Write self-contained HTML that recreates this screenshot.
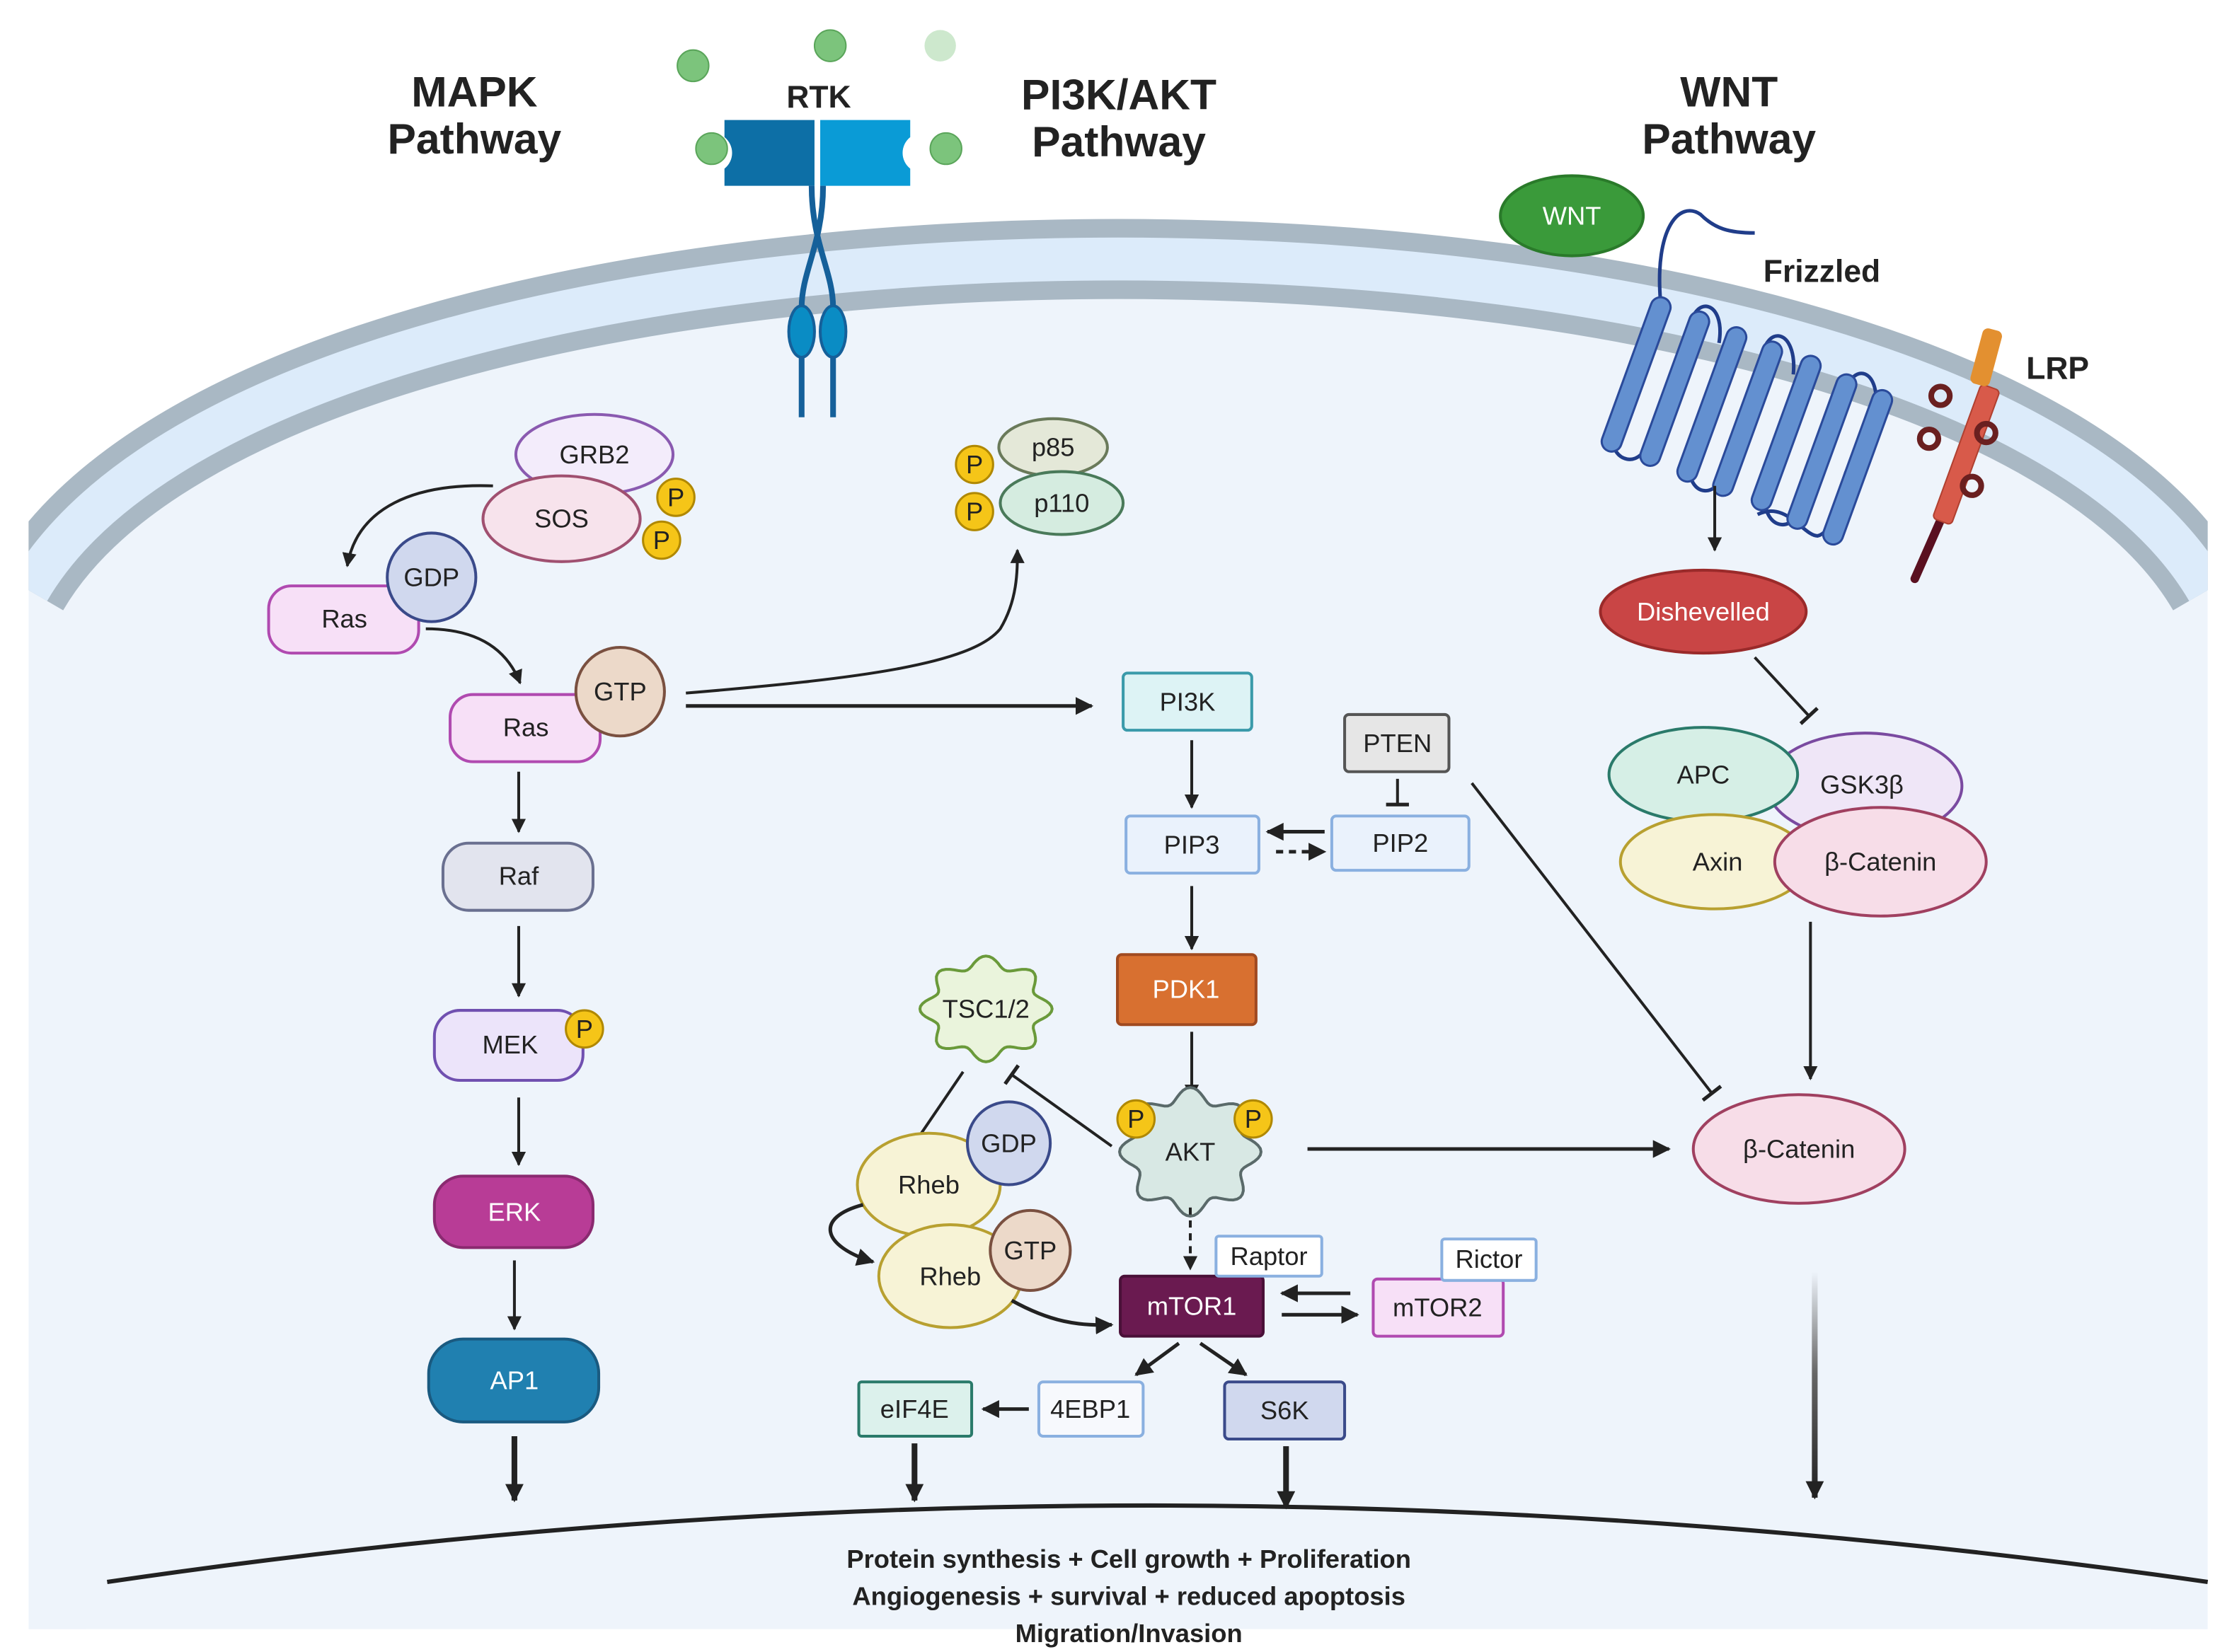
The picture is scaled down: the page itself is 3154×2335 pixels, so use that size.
<!DOCTYPE html>
<html><head><meta charset="utf-8"><style>
html,body{margin:0;padding:0;background:#fff}
svg{display:block}
text{font-family:"Liberation Sans",Arial,sans-serif;text-anchor:middle;dominant-baseline:central;fill:#222}
.t{font-size:18px}
.b{font-weight:bold}
</style></head><body>
<svg width="3154" height="2335" viewBox="0 0 1562 1156" preserveAspectRatio="none" xmlns="http://www.w3.org/2000/svg">
<defs>
<marker id="a" viewBox="0 0 10 10" refX="9" refY="5" markerWidth="5" markerHeight="5" orient="auto"><path d="M0,0L10,5L0,10z" fill="#222"/></marker>
<marker id="inh" viewBox="0 0 10 10" refX="5" refY="5" markerWidth="8" markerHeight="8" orient="auto"><path d="M5,0L5,10" stroke="#222" stroke-width="1.6"/></marker>
<marker id="big" viewBox="0 0 10 10" refX="9" refY="5" markerWidth="3.2" markerHeight="3.2" orient="auto"><path d="M0,0L10,5L0,10z" fill="#222"/></marker>
<linearGradient id="g" gradientUnits="userSpaceOnUse" x1="0" y1="890" x2="0" y2="1048"><stop offset="0" stop-color="#eef4fb"/><stop offset="0.45" stop-color="#666"/><stop offset="1" stop-color="#222"/></linearGradient>
<clipPath id="cc"><rect x="20" y="0" width="1525" height="1156"/></clipPath>
</defs>
<rect width="1562" height="1156" fill="#fff"/>
<g clip-path="url(#cc)">
<path d="M20,392 C200,83 1365,83 1545,392 L1545,1140 L20,1140 Z" fill="#eef4fb"/>
<path d="M20,413 C200,104 1365,104 1545,413" fill="none" stroke="#a9b8c4" stroke-width="56"/>
<path d="M20,413 C200,104 1365,104 1545,413" fill="none" stroke="#dcebfa" stroke-width="30"/>
<rect x="20" y="460" width="40" height="680" fill="#eef4fb"/>
<rect x="1505" y="460" width="40" height="680" fill="#eef4fb"/>
</g>
<path d="M75,1107 Q800,1000 1545,1107" fill="none" stroke="#222" stroke-width="3"/>

<text x="332" y="64" class="b" font-size="30">MAPK</text>
<text x="332" y="97" class="b" font-size="30">Pathway</text>
<text x="783" y="66" class="b" font-size="30">PI3K/AKT</text>
<text x="783" y="99" class="b" font-size="30">Pathway</text>
<text x="1210" y="64" class="b" font-size="30">WNT</text>
<text x="1210" y="97" class="b" font-size="30">Pathway</text>

<g fill="#7cc47c" stroke="#5aa55a">
<circle cx="485" cy="46" r="11"/><circle cx="581" cy="32" r="11"/><circle cx="498" cy="104" r="11"/><circle cx="662" cy="104" r="11"/>
</g>
<circle cx="658" cy="32" r="11" fill="#cde8cd"/>
<text x="573" y="68" class="b" font-size="22">RTK</text>
<path d="M507,84 H570 V130 H507 V118 A14,14 0 0 0 507,96 Z" fill="#0d6fa6"/>
<path d="M574,84 H637 V96 A14,14 0 0 0 637,118 V130 H574 Z" fill="#0a9bd6"/>
<path d="M568,130 C568,170 583,190 583,215 M576,130 C576,170 561,190 561,215" stroke="#15609a" stroke-width="4" fill="none"/>
<ellipse cx="561" cy="232" rx="9" ry="18" fill="#0a8cc4" stroke="#15609a" stroke-width="2"/>
<ellipse cx="583" cy="232" rx="9" ry="18" fill="#0a8cc4" stroke="#15609a" stroke-width="2"/>
<path d="M561,250 V292 M583,250 V292" stroke="#15609a" stroke-width="4"/>

<ellipse cx="1100" cy="151" rx="50" ry="28" fill="#3a9a3a" stroke="#2a7a2a" stroke-width="2"/>
<text x="1100" y="151" class="t" style="fill:#fff" font-size="20">WNT</text>
<path d="M1162,210 C1158,160 1175,140 1190,150 C1200,160 1210,163 1228,163" fill="none" stroke="#203d8a" stroke-width="2.5"/>
<path d="M1230,360 C1250,350 1262,375 1272,375 C1285,372 1288,340 1292,330" fill="none" stroke="#203d8a" stroke-width="2.5"/>
<g fill="none" stroke="#203d8a" stroke-width="2.5">
<path d="M1128,300 C1125,325 1150,330 1155,305"/>
<path d="M1182,232 C1185,205 1208,210 1203,240"/>
<path d="M1182,322 C1180,350 1205,350 1207,325"/>
<path d="M1232,255 C1235,225 1258,230 1255,262"/>
<path d="M1235,345 C1233,372 1258,375 1260,350"/>
<path d="M1290,280 C1295,250 1318,258 1312,290"/>
</g>
<g fill="#6390d0" stroke="#2a4a9a" stroke-width="1.5">
<rect x="-7" y="-57" width="14" height="114" rx="7" transform="translate(1145,262) rotate(20)"/>
<rect x="-7" y="-57" width="14" height="114" rx="7" transform="translate(1172,272) rotate(20)"/>
<rect x="-7" y="-57" width="14" height="114" rx="7" transform="translate(1198,283) rotate(20)"/>
<rect x="-7" y="-57" width="14" height="114" rx="7" transform="translate(1223,293) rotate(20)"/>
<rect x="-7" y="-57" width="14" height="114" rx="7" transform="translate(1250,303) rotate(20)"/>
<rect x="-7" y="-57" width="14" height="114" rx="7" transform="translate(1275,316) rotate(20)"/>
<rect x="-7" y="-57" width="14" height="114" rx="7" transform="translate(1300,327) rotate(20)"/>
</g>
<text x="1275" y="190" class="b" font-size="22">Frizzled</text>
<path d="M1373,330 L1340,405" stroke="#5a1020" stroke-width="6" stroke-linecap="round"/>
<rect x="-7" y="-50" width="14" height="100" rx="3" transform="translate(1376,318) rotate(20)" fill="#d85a4a" stroke="#b04030"/>
<rect x="-7" y="-20" width="14" height="40" rx="4" transform="translate(1390,250) rotate(15)" fill="#e39030"/>
<g fill="none" stroke="#6a2020" stroke-width="4">
<circle cx="1358" cy="277" r="6.5"/><circle cx="1350" cy="307" r="6.5"/><circle cx="1390" cy="303" r="6.5"/><circle cx="1380" cy="340" r="6.5"/>
</g>
<text x="1440" y="258" class="b" font-size="22">LRP</text>
<line x1="1200" y1="340" x2="1200" y2="385" stroke="#222" stroke-width="2" marker-end="url(#a)"/>
<ellipse cx="1192" cy="428" rx="72" ry="29" fill="#c94545" stroke="#9a2a2a" stroke-width="2"/>
<text x="1192" y="428" class="t" style="fill:#fff">Dishevelled</text>
<line x1="1228" y1="460" x2="1266" y2="501" stroke="#222" stroke-width="2" marker-end="url(#inh)"/>
<ellipse cx="1305" cy="550" rx="68" ry="37" fill="#efe6f7" stroke="#7a4aa0" stroke-width="2"/>
<ellipse cx="1192" cy="542" rx="66" ry="33" fill="#d6efe6" stroke="#2a7a6a" stroke-width="2"/>
<ellipse cx="1200" cy="603" rx="66" ry="33" fill="#f7f3d6" stroke="#b8a030" stroke-width="2"/>
<ellipse cx="1316" cy="603" rx="74" ry="38" fill="#f7dde8" stroke="#a04060" stroke-width="2"/>
<text x="1192" y="542" class="t" font-size="20">APC</text>
<text x="1303" y="549" class="t" font-size="20">GSK3β</text>
<text x="1202" y="603" class="t" font-size="20">Axin</text>
<text x="1316" y="603" class="t" font-size="20">β-Catenin</text>
<line x1="1267" y1="645" x2="1267" y2="755" stroke="#222" stroke-width="2" marker-end="url(#a)"/>
<ellipse cx="1259" cy="804" rx="74" ry="38" fill="#f7dde8" stroke="#a04060" stroke-width="2"/>
<text x="1259" y="804" class="t" font-size="20">β-Catenin</text>
<line x1="1030" y1="548" x2="1198" y2="765" stroke="#222" stroke-width="2" marker-end="url(#inh)"/>
<line x1="915" y1="804" x2="1168" y2="804" stroke="#222" stroke-width="2.5" marker-end="url(#a)"/>
<line x1="1270" y1="890" x2="1270" y2="1048" stroke="url(#g)" stroke-width="4" marker-end="url(#big)"/>

<ellipse cx="416" cy="318" rx="55" ry="28" fill="#f3ecfb" stroke="#8a5ab0" stroke-width="2"/>
<text x="416" y="318" class="t">GRB2</text>
<ellipse cx="393" cy="363" rx="55" ry="30" fill="#f7e3ec" stroke="#a05070" stroke-width="2"/>
<text x="393" y="363" class="t">SOS</text>
<g fill="#f5c518" stroke="#b08800" stroke-width="1.5"><circle cx="473" cy="348" r="13"/><circle cx="463" cy="378" r="13"/></g>
<text x="473" y="348" class="t" font-size="16">P</text><text x="463" y="378" class="t" font-size="16">P</text>
<path d="M345,340 C290,338 250,355 243,396" fill="none" stroke="#222" stroke-width="2" marker-end="url(#a)"/>
<rect x="188" y="410" width="105" height="47" rx="16" fill="#f7e0f7" stroke="#b04ab0" stroke-width="2"/>
<text x="241" y="433" class="t">Ras</text>
<circle cx="302" cy="404" r="31" fill="#d0d8ee" stroke="#3a4a8a" stroke-width="2"/>
<text x="302" y="404" class="t">GDP</text>
<path d="M298,440 C335,440 355,455 364,478" fill="none" stroke="#222" stroke-width="2" marker-end="url(#a)"/>
<rect x="315" y="486" width="105" height="47" rx="16" fill="#f7e0f7" stroke="#b04ab0" stroke-width="2"/>
<text x="368" y="509" class="t">Ras</text>
<circle cx="434" cy="484" r="31" fill="#ecd9c9" stroke="#7a5040" stroke-width="2"/>
<text x="434" y="484" class="t">GTP</text>
<line x1="363" y1="540" x2="363" y2="582" stroke="#222" stroke-width="2" marker-end="url(#a)"/>
<rect x="310" y="590" width="105" height="47" rx="18" fill="#e2e4ee" stroke="#6a7090" stroke-width="2"/>
<text x="363" y="613" class="t">Raf</text>
<line x1="363" y1="648" x2="363" y2="697" stroke="#222" stroke-width="2" marker-end="url(#a)"/>
<rect x="304" y="707" width="104" height="49" rx="18" fill="#ece4fa" stroke="#7050b0" stroke-width="2"/>
<text x="357" y="731" class="t">MEK</text>
<circle cx="409" cy="720" r="13" fill="#f5c518" stroke="#b08800" stroke-width="1.5"/><text x="409" y="720" class="t" font-size="16">P</text>
<line x1="363" y1="768" x2="363" y2="815" stroke="#222" stroke-width="2" marker-end="url(#a)"/>
<rect x="304" y="823" width="111" height="50" rx="20" fill="#b83c96" stroke="#8a2a70" stroke-width="2"/>
<text x="360" y="848" class="t" style="fill:#fff">ERK</text>
<line x1="360" y1="882" x2="360" y2="930" stroke="#222" stroke-width="2" marker-end="url(#a)"/>
<rect x="300" y="937" width="119" height="58" rx="24" fill="#2080b0" stroke="#1a5a80" stroke-width="2"/>
<text x="360" y="966" class="t" style="fill:#fff">AP1</text>
<line x1="360" y1="1005" x2="360" y2="1050" stroke="#222" stroke-width="4" marker-end="url(#big)"/>

<path d="M480,485 C600,475 680,465 700,440 C712,420 712,400 712,385" fill="none" stroke="#222" stroke-width="2" marker-end="url(#a)"/>
<line x1="480" y1="494" x2="764" y2="494" stroke="#222" stroke-width="2.5" marker-end="url(#a)"/>
<ellipse cx="737" cy="313" rx="38" ry="20" fill="#e4e8d8" stroke="#6a7a5a" stroke-width="2"/>
<text x="737" y="313" class="t">p85</text>
<ellipse cx="743" cy="352" rx="43" ry="22" fill="#d5ece0" stroke="#4a7a5a" stroke-width="2"/>
<text x="743" y="352" class="t">p110</text>
<g fill="#f5c518" stroke="#b08800" stroke-width="1.5"><circle cx="682" cy="325" r="13"/><circle cx="682" cy="358" r="13"/></g>
<text x="682" y="325" class="t" font-size="16">P</text><text x="682" y="358" class="t" font-size="16">P</text>
<rect x="786" y="471" width="90" height="40" rx="3" fill="#ddf3f5" stroke="#3a9aaa" stroke-width="2"/>
<text x="831" y="491" class="t">PI3K</text>
<line x1="834" y1="518" x2="834" y2="565" stroke="#222" stroke-width="2" marker-end="url(#a)"/>
<rect x="788" y="571" width="93" height="40" rx="3" fill="#eaf2fc" stroke="#8ab0e0" stroke-width="2"/>
<text x="834" y="591" class="t">PIP3</text>
<rect x="932" y="571" width="96" height="38" rx="3" fill="#eaf2fc" stroke="#8ab0e0" stroke-width="2"/>
<text x="980" y="590" class="t">PIP2</text>
<line x1="927" y1="582" x2="887" y2="582" stroke="#222" stroke-width="2.5" marker-end="url(#a)"/>
<line x1="893" y1="596" x2="927" y2="596" stroke="#222" stroke-width="2.5" stroke-dasharray="5 4" marker-end="url(#a)"/>
<rect x="941" y="500" width="73" height="40" rx="3" fill="#e6e6e6" stroke="#555" stroke-width="2"/>
<text x="978" y="520" class="t">PTEN</text>
<line x1="978" y1="545" x2="978" y2="563" stroke="#222" stroke-width="2" marker-end="url(#inh)"/>
<line x1="834" y1="620" x2="834" y2="664" stroke="#222" stroke-width="2" marker-end="url(#a)"/>
<rect x="782" y="668" width="97" height="49" rx="3" fill="#d87030" stroke="#a04a20" stroke-width="2"/>
<text x="830" y="692" class="t" style="fill:#fff">PDK1</text>
<line x1="834" y1="722" x2="834" y2="768" stroke="#222" stroke-width="2" marker-end="url(#a)"/>
<path id="akt" fill="#d8e8e4" stroke="#5a6a6a" stroke-width="2"/>
<path id="tsc" fill="#eaf4dc" stroke="#6a9a3a" stroke-width="2"/>
<g fill="#f5c518" stroke="#b08800" stroke-width="1.5"><circle cx="795" cy="783" r="13"/><circle cx="877" cy="783" r="13"/></g>
<text x="795" y="783" class="t" font-size="16">P</text><text x="877" y="783" class="t" font-size="16">P</text>
<text x="833" y="806" class="t">AKT</text>
<text x="690" y="706" class="t" font-size="16">TSC1/2</text>
<line x1="674" y1="750" x2="640" y2="800" stroke="#222" stroke-width="2" marker-end="url(#inh)"/>
<line x1="778" y1="802" x2="708" y2="752" stroke="#222" stroke-width="2" marker-end="url(#inh)"/>
<ellipse cx="650" cy="829" rx="50" ry="36" fill="#f7f3d6" stroke="#b8a030" stroke-width="2"/>
<text x="650" y="829" class="t">Rheb</text>
<circle cx="706" cy="800" r="29" fill="#d0d8ee" stroke="#3a4a8a" stroke-width="2"/>
<text x="706" y="800" class="t" font-size="16">GDP</text>
<ellipse cx="665" cy="893" rx="50" ry="36" fill="#f7f3d6" stroke="#b8a030" stroke-width="2"/>
<text x="665" y="893" class="t">Rheb</text>
<circle cx="721" cy="875" r="28" fill="#ecd9c9" stroke="#7a5040" stroke-width="2"/>
<text x="721" y="875" class="t" font-size="16">GTP</text>
<path d="M604,843 C570,852 575,872 611,883" fill="none" stroke="#222" stroke-width="2.5" marker-end="url(#a)"/>
<path d="M708,910 C735,925 755,928 778,927" fill="none" stroke="#222" stroke-width="2.5" marker-end="url(#a)"/>
<line x1="833" y1="845" x2="833" y2="888" stroke="#222" stroke-width="2" stroke-dasharray="5 4" marker-end="url(#a)"/>
<rect x="784" y="893" width="100" height="42" rx="3" fill="#6a1a50" stroke="#4a1038" stroke-width="2"/>
<text x="834" y="914" class="t" style="fill:#fff">mTOR1</text>
<rect x="851" y="865" width="74" height="28" rx="2" fill="#fff" stroke="#8ab0e0" stroke-width="2"/>
<text x="888" y="879" class="t">Raptor</text>
<rect x="961" y="895" width="91" height="40" rx="3" fill="#f7e0f7" stroke="#b04ab0" stroke-width="2"/>
<text x="1006" y="915" class="t">mTOR2</text>
<rect x="1009" y="867" width="66" height="29" rx="2" fill="#fff" stroke="#8ab0e0" stroke-width="2"/>
<text x="1042" y="881" class="t">Rictor</text>
<line x1="945" y1="905" x2="897" y2="905" stroke="#222" stroke-width="2.5" marker-end="url(#a)"/>
<line x1="897" y1="920" x2="950" y2="920" stroke="#222" stroke-width="2.5" marker-end="url(#a)"/>
<line x1="825" y1="940" x2="795" y2="962" stroke="#222" stroke-width="2.5" marker-end="url(#a)"/>
<line x1="840" y1="940" x2="872" y2="962" stroke="#222" stroke-width="2.5" marker-end="url(#a)"/>
<rect x="601" y="967" width="79" height="38" rx="2" fill="#dcf1ec" stroke="#2a7a6a" stroke-width="2"/>
<text x="640" y="986" class="t">eIF4E</text>
<rect x="727" y="967" width="73" height="38" rx="3" fill="#f7f9fd" stroke="#8ab0e0" stroke-width="2"/>
<text x="763" y="986" class="t">4EBP1</text>
<rect x="857" y="967" width="84" height="40" rx="3" fill="#d0d8ee" stroke="#3a4a8a" stroke-width="2"/>
<text x="899" y="987" class="t">S6K</text>
<line x1="720" y1="986" x2="688" y2="986" stroke="#222" stroke-width="2.5" marker-end="url(#a)"/>
<line x1="640" y1="1010" x2="640" y2="1050" stroke="#222" stroke-width="4" marker-end="url(#big)"/>
<line x1="900" y1="1012" x2="900" y2="1055" stroke="#222" stroke-width="4" marker-end="url(#big)"/>

<text x="790" y="1091" class="b" font-size="18">Protein synthesis + Cell growth  + Proliferation</text>
<text x="790" y="1117" class="b" font-size="18">Angiogenesis + survival + reduced apoptosis</text>
<text x="790" y="1143" class="b" font-size="18">Migration/Invasion</text>
</svg>
<script>
function star(id,cx,cy,R,a,n,sx){var d="";for(var i=0;i<=120;i++){var t=i/120*2*Math.PI;var r=R+a*Math.cos(n*t);var x=cx+r*Math.sin(t)*sx,y=cy-r*Math.cos(t);d+=(i?"L":"M")+x.toFixed(1)+","+y.toFixed(1);}document.getElementById(id).setAttribute("d",d+"Z");}
star("akt",833,806,40,5,8,1.1);star("tsc",690,706,33,4,8,1.25);
</script>
</body></html>
